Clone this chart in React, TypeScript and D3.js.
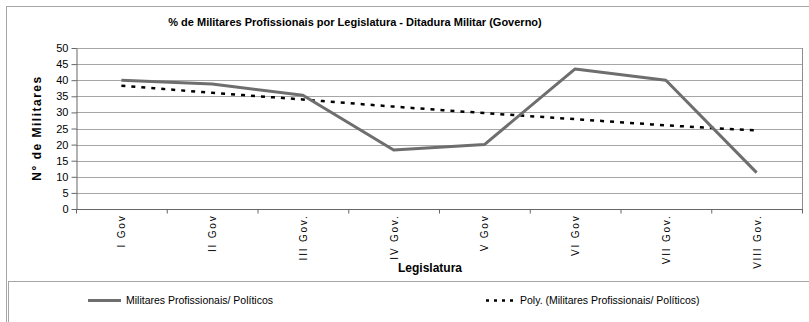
import { useRef, useEffect } from "react";
import * as d3 from "d3";

const categories = ["I Gov", "II Gov", "III Gov.", "IV Gov.", "V Gov", "VI Gov", "VII Gov.", "VIII Gov."];
const militares = [40, 38.8, 35.3, 18.3, 20, 43.5, 40, 11.3];
const poly = [38.3, 36.1, 34, 31.8, 29.8, 27.9, 26, 24.4];
const yTicks = [0, 5, 10, 15, 20, 25, 30, 35, 40, 45, 50];

const W = 809;
const H = 322;
const PLOT = { left: 76, right: 802, top: 48, bottom: 209 };
const FONT = "'Liberation Sans', Arial, sans-serif";

export default function App() {
  const svgRef = useRef<SVGSVGElement>(null);

  useEffect(() => {
    if (!svgRef.current) return;
    const svg = d3.select(svgRef.current);
    svg.selectAll("*").remove();

    // Outer frame + legend box
    svg.append("rect")
      .attr("x", 6.5).attr("y", 6.5).attr("width", W + 10).attr("height", H + 10)
      .attr("fill", "white").attr("stroke", "#a6a6a6").attr("stroke-width", 1);
    svg.append("rect")
      .attr("x", 8.5).attr("y", 281.5).attr("width", W + 10).attr("height", 60)
      .attr("fill", "white").attr("stroke", "#a6a6a6").attr("stroke-width", 1);

    const x = d3.scaleBand().domain(categories).range([PLOT.left, PLOT.right]);
    const y = d3.scaleLinear().domain([0, 50]).range([PLOT.bottom, PLOT.top]);
    const cx = (c: string) => (x(c) ?? 0) + x.bandwidth() / 2;

    // Title
    svg.append("text")
      .attr("x", 355).attr("y", 26)
      .attr("text-anchor", "middle")
      .style("font-family", FONT).style("font-size", "11px").style("font-weight", "bold")
      .text("% de Militares Profissionais por Legislatura - Ditadura Militar (Governo)");

    // Grid
    svg.append("g").selectAll("line")
      .data(yTicks.filter((t) => t > 0))
      .join("line")
      .attr("x1", PLOT.left).attr("x2", PLOT.right)
      .attr("y1", (d) => Math.round(y(d)) + 0.5).attr("y2", (d) => Math.round(y(d)) + 0.5)
      .attr("stroke", "#a6a6a6").attr("stroke-width", 1);

    // Plot border (right side)
    svg.append("line")
      .attr("x1", PLOT.right + 0.5).attr("x2", PLOT.right + 0.5)
      .attr("y1", PLOT.top).attr("y2", PLOT.bottom)
      .attr("stroke", "#8c8c8c");

    // Y axis
    const yAxis = svg.append("g")
      .attr("transform", `translate(${PLOT.left + 0.5},0)`)
      .call(d3.axisLeft(y).tickValues(yTicks).tickSize(5).tickSizeOuter(0));
    yAxis.select(".domain").attr("stroke", "#666");
    yAxis.selectAll(".tick line").attr("stroke", "#666");
    yAxis.selectAll("text")
      .attr("fill", "#000").style("font-family", FONT).style("font-size", "11px");

    // X axis
    const xAxis = svg.append("g")
      .attr("transform", `translate(0,${PLOT.bottom + 0.5})`);
    xAxis.append("line")
      .attr("x1", PLOT.left).attr("x2", PLOT.right + 1)
      .attr("stroke", "#666");
    xAxis.selectAll("line.tk")
      .data(d3.range(categories.length + 1))
      .join("line")
      .attr("class", "tk")
      .attr("x1", (i) => PLOT.left + i * x.bandwidth() + 0.5)
      .attr("x2", (i) => PLOT.left + i * x.bandwidth() + 0.5)
      .attr("y1", 0).attr("y2", 4)
      .attr("stroke", "#666");
    xAxis.selectAll("text")
      .data(categories)
      .join("text")
      .attr("transform", (d) => `translate(${cx(d) + 4},5) rotate(-90)`)
      .attr("text-anchor", "end")
      .style("font-family", FONT).style("font-size", "10px").style("letter-spacing", "1.8px")
      .text((d) => d);

    // Axis titles
    svg.append("text")
      .attr("x", 430).attr("y", 272)
      .attr("text-anchor", "middle")
      .style("font-family", FONT).style("font-size", "12px").style("font-weight", "bold")
      .text("Legislatura");
    svg.append("text")
      .attr("transform", `translate(41,128) rotate(-90)`)
      .attr("text-anchor", "middle")
      .style("font-family", FONT).style("font-size", "12px").style("font-weight", "bold")
      .style("letter-spacing", "1.5px")
      .text("N° de Militares");

    // Trend line (dashed)
    const trend = d3.line<number>()
      .x((_, i) => cx(categories[i]))
      .y((d) => y(d))
      .curve(d3.curveMonotoneX);
    svg.append("path")
      .datum(poly)
      .attr("fill", "none").attr("stroke", "#000")
      .attr("stroke-width", 2.5).attr("stroke-dasharray", "4,6")
      .attr("d", trend);

    // Main series
    const line = d3.line<number>()
      .x((_, i) => cx(categories[i]))
      .y((d) => y(d));
    svg.append("path")
      .datum(militares)
      .attr("fill", "none").attr("stroke", "#6e6e6e")
      .attr("stroke-width", 3).attr("stroke-linejoin", "round")
      .attr("d", line);

    // Legend
    const lg = svg.append("g");
    lg.append("line")
      .attr("x1", 88).attr("x2", 121).attr("y1", 300.5).attr("y2", 300.5)
      .attr("stroke", "#6e6e6e").attr("stroke-width", 3);
    lg.append("text")
      .attr("x", 126).attr("y", 304)
      .style("font-family", FONT).style("font-size", "10.5px")
      .text("Militares Profissionais/ Políticos");
    lg.append("line")
      .attr("x1", 486).attr("x2", 518).attr("y1", 300.5).attr("y2", 300.5)
      .attr("stroke", "#000").attr("stroke-width", 2.5).attr("stroke-dasharray", "3,5");
    lg.append("text")
      .attr("x", 520).attr("y", 304)
      .style("font-family", FONT).style("font-size", "10.5px")
      .text("Poly. (Militares Profissionais/ Políticos)");
  }, []);

  return (
    <svg
      ref={svgRef}
      width={W}
      height={H}
      style={{ position: "absolute", left: 0, top: 0, display: "block", background: "white" }}
    />
  );
}
